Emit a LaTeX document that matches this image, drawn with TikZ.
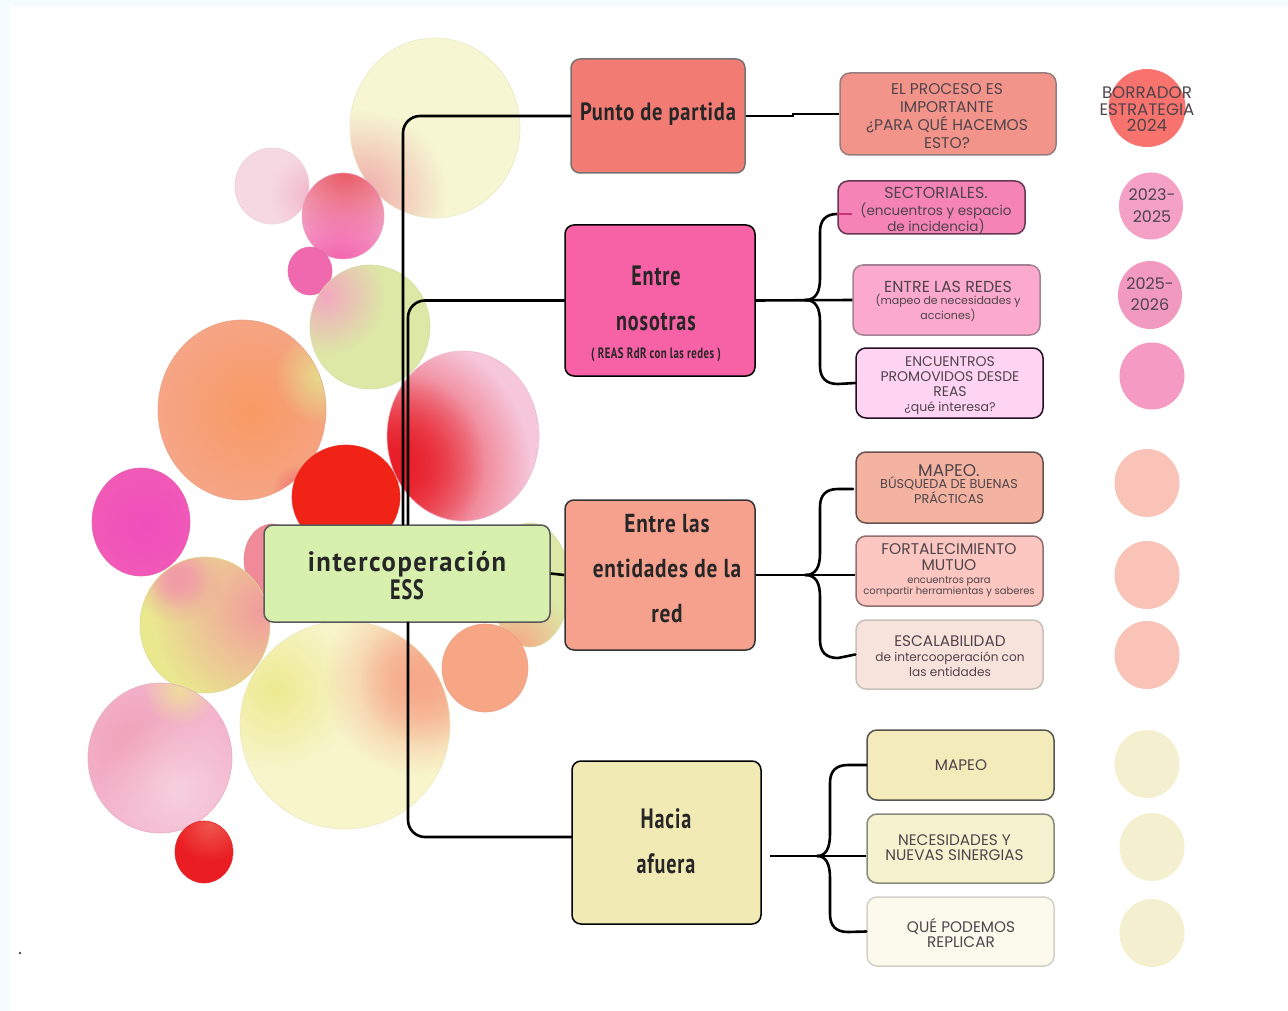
\documentclass[tikz,border=0pt]{standalone}
\usepackage{fontspec}
\usetikzlibrary{shapes.geometric,fadings}
\setmainfont{Poppins}
\newfontfamily\headf[FakeStretch=0.82,LetterSpace=3]{PT Sans}
\newfontfamily\headw[FakeStretch=0.95,LetterSpace=5.5]{PT Sans}
\newfontfamily\heade[FakeStretch=0.72,LetterSpace=3]{PT Sans}
\newcommand\fs[2]{\fontsize{#1}{#2}\selectfont}
\newcommand\sz[1]{\fontsize{#1}{\baselineskip}\selectfont}
\tikzfading[name=softspot,inner color=transparent!0,outer color=transparent!100]
\newcommand\blobx[6]{%
  \begin{scope}
    \clip (#1,#2) ellipse [x radius=#3,y radius=#4];
    \fill[#5] (#1,#2) ellipse [x radius=#3,y radius=#4];
    #6
  \end{scope}
  \draw[#5!88!gray,line width=.7pt,opacity=.8] (#1,#2) ellipse [x radius=#3,y radius=#4];}
\newcommand\spot[4]{\fill[#4,path fading=softspot] (#1,#2) circle (#3);}
\newcommand\dc[1]{\definecolor{c#1}{HTML}{#1}}
\dc{F5FCFD}\dc{F0A9A8}\dc{F2B8CC}\dc{EA5A62}\dc{F45FAE}\dc{F068AE}\dc{F2A8C0}\dc{F99A63}\dc{E4E08C}\dc{EE6A70}
\dc{E81E28}\dc{F04FBC}\dc{F08A98}\dc{F6A585}\dc{F29B9D}\dc{F29BA8}\dc{F6A98A}\dc{F6AE92}\dc{EDEA90}\dc{F1A0B8}
\dc{F7D0DE}\dc{EFDC9C}\dc{EA1E22}\dc{F0554F}
\dc{D8F0AE}\dc{F27C74}\dc{F762A6}\dc{F6A18E}\dc{F2EAB4}
\dc{967D7D}\dc{F3948A}\dc{643755}\dc{F583B6}\dc{A58291}\dc{FBA9CC}\dc{230F23}\dc{FFD3F2}\dc{695050}\dc{F3B3A0}
\dc{917070}\dc{FBC7C0}\dc{C8C0BB}\dc{F8E2DC}\dc{555550}\dc{F3EBB9}\dc{8A8A7A}\dc{F5F3CF}\dc{D2D2C8}\dc{FBFAEC}
\dc{F8736D}\dc{F5A0C5}\dc{F299BF}\dc{F59BC3}\dc{F9C3B8}\dc{F4EFCE}\dc{C83278}
\definecolor{ink}{HTML}{4F444C}
\definecolor{wY}{HTML}{F6F6D2}
\definecolor{wP}{HTML}{F6D8E2}
\definecolor{wK}{HTML}{F3A8C8}
\definecolor{wG}{HTML}{DDE8A6}
\definecolor{wO}{HTML}{F6A585}
\definecolor{wC}{HTML}{F6C6DA}
\definecolor{wE}{HTML}{F12317}
\definecolor{wM}{HTML}{F25FB5}
\definecolor{wL}{HTML}{E9E88F}
\definecolor{wN}{HTML}{F3B4CC}
\definecolor{wB}{HTML}{F8F5CB}
\tikzset{
  hub/.style={draw=#1,line width=1.5pt,rounded corners=9pt,inner sep=0pt},
  hubtext/.style={inner sep=0pt,align=center,text=black!85},
  leaf/.style={draw=#1,line width=1.5pt,rounded corners=10pt,inner sep=0pt},
  leaftext/.style={inner sep=0pt,align=center,text=ink},
  disc/.style={ellipse,fill=#1,inner sep=0pt},
  conn/.style={line width=2.6pt,black,rounded corners=17pt,line cap=round},
  plain/.style={line width=2.6pt,black}
}
\begin{document}
\begin{tikzpicture}[x=1pt,y=-1pt]
\useasboundingbox (0,0) rectangle (1288,1011);
\fill[cF5FCFD] (0,0) rectangle (1288,1011);
\fill[white] (10,6) rectangle (1288,1011);
\fill[black!70] (20,953) circle (1.4);
% watercolour blobs
\blobx{435}{128}{85}{90}{wY}{\spot{362}{195}{85}{cF0A9A8}}
\blobx{272}{186}{37}{38}{wP}{\spot{310}{195}{40}{cF2B8CC}}
\blobx{343}{216}{41}{43}{wK}{\spot{345}{170}{70}{cEA5A62}\spot{340}{265}{70}{cF45FAE}}
\blobx{310}{271}{22}{24}{cF068AE}{}
\blobx{370}{327}{60}{62}{wG}{\spot{325}{295}{60}{cF2A8C0}}
\blobx{242}{410}{84}{90}{wO}{\spot{252}{410}{90}{cF99A63}\spot{325}{375}{50}{cE4E08C}\spot{298}{490}{26}{cEE6A70}}
\blobx{346}{497}{54}{52}{wE}{}
\blobx{463}{436}{76}{85}{wC}{\spot{395}{468}{135}{cE81E28}\spot{395}{462}{90}{cE81E28}}
\blobx{141}{522}{49}{54}{wM}{\spot{145}{525}{80}{cF04FBC}}
\blobx{272}{560}{28}{36}{cF08A98}{}
\blobx{530}{585}{40}{62}{wG}{\spot{515}{648}{60}{cF6A585}}
\blobx{205}{625}{65}{68}{wL}{\spot{262}{610}{110}{cF29B9D}\spot{178}{578}{46}{cF29BA8}\spot{178}{578}{30}{cF29BA8}}
\blobx{345}{725}{105}{104}{wB}{\spot{275}{690}{80}{cEDEA90}\spot{418}{680}{95}{cF6A98A}\spot{425}{680}{65}{cF6A98A}}
\blobx{485}{668}{43}{44}{wO}{}
\blobx{160}{758}{72}{75}{wN}{\spot{135}{745}{70}{cF1A0B8}\spot{178}{790}{80}{cF7D0DE}\spot{180}{690}{36}{cEFDC9C}}
\blobx{204}{852}{29}{31}{cEA1E22}{\spot{210}{825}{36}{cF0554F}}
% main boxes
\node[hub={black!65},fill=cD8F0AE,minimum width=286pt,minimum height=97pt] (ic) at (407,573.5) {};
\node[hubtext,font=\fs{28}{30}\bfseries] at (407,576) {{\headw intercoperación}\\[-2pt]{\heade ESS}};
\node[hub={black!55},fill=cF27C74,minimum width=174pt,minimum height=114pt] (pp) at (658,116) {};
\node[hubtext,font=\headf\bfseries\fs{25}{30}] at (658,114) {Punto de partida};
\node[hub=black,fill=cF762A6,minimum width=190pt,minimum height=151pt] (en) at (660,300.5) {};
\node[hubtext,font=\heade\bfseries\fs{28}{45}] at (656,314) {Entre\\nosotras\\[-17pt]\sz{15}( REAS RdR con las redes )};
\node[hub={black!80},fill=cF6A18E,minimum width=190pt,minimum height=150pt] (el) at (660,575) {};
\node[hubtext,font=\headf\bfseries\fs{26}{45}] at (667,569) {Entre las\\entidades de la\\red};
\node[hub=black,fill=cF2EAB4,minimum width=189pt,minimum height=163pt] (ha) at (666.5,842.5) {};
\node[hubtext,font=\heade\bfseries\fs{28}{45}] at (666,841) {Hacia\\afuera};
% leaves
\node[leaf=c967D7D,fill=cF3948A,minimum width=216pt,minimum height=82pt] (a1) at (948,114) {};
\node[leaftext,font=\fs{15.5}{18}] at (947,116) {EL PROCESO ES\\IMPORTANTE\\¿PARA QUÉ HACEMOS\\ESTO?};
\node[leaf=c643755,fill=cF583B6,minimum width=187pt,minimum height=53pt] (b1) at (931.5,207.5) {};
\node[leaftext,font=\fs{14}{16.5}] at (936,211) {\sz{16}SECTORIALES.\\\sz{13.5}(encuentros y espacio\\\sz{13.5}de incidencia)};
\node[leaf=cA58291,fill=cFBA9CC,minimum width=187pt,minimum height=70pt] (b2) at (946.5,300) {};
\node[leaftext,font=\fs{11}{12.7}] at (948,301) {\sz{15.9}ENTRE LAS REDES\\\sz{11}(mapeo de necesidades y\\\sz{11}acciones)};
\node[leaf=c230F23,fill=cFFD3F2,minimum width=187pt,minimum height=70pt] (b3) at (949.5,383) {};
\node[leaftext,font=\fs{14}{15}] at (950,385.5) {ENCUENTROS\\PROMOVIDOS DESDE\\REAS\\\sz{12.5}¿qué interesa?};
\node[leaf=c695050,fill=cF3B3A0,minimum width=187pt,minimum height=71pt] (c1) at (949.5,487.5) {};
\node[leaftext,font=\fs{12.8}{12.5}] at (949,484) {\sz{17}MAPEO.\\\sz{12.8}BÚSQUEDA DE BUENAS\\\sz{12.8}PRÁCTICAS};
\node[leaf=c917070,fill=cFBC7C0,minimum width=187pt,minimum height=70pt] (c2) at (949.5,571) {};
\node[leaftext,font=\fs{10}{13.3}] at (949,570.5) {\sz{15.5}FORTALECIMIENTO\\[2.5pt]\sz{15.5}MUTUO\\\sz{10}encuentros para\\[-2pt]\sz{10}compartir herramientas y saberes};
\node[leaf=cC8C0BB,fill=cF8E2DC,minimum width=187pt,minimum height=69pt] (c3) at (949.5,654.5) {};
\node[leaftext,font=\fs{12.1}{15}] at (950,656) {\sz{15.3}ESCALABILIDAD\\de intercooperación con\\las entidades};
\node[leaf=c555550,fill=cF3EBB9,minimum width=187pt,minimum height=70pt] (d1) at (960.5,765) {};
\node[leaftext,font=\fs{15.3}{16}] at (961,765) {MAPEO};
\node[leaf=c8A8A7A,fill=cF5F3CF,minimum width=187pt,minimum height=69pt] (d2) at (960.5,848.5) {};
\node[leaftext,font=\fs{15.3}{15}] at (954.5,847.5) {NECESIDADES Y\\NUEVAS SINERGIAS};
\node[leaf=cD2D2C8,fill=cFBFAEC,minimum width=187pt,minimum height=69pt] (d3) at (960.5,931.5) {};
\node[leaftext,font=\fs{15.3}{15.5}] at (961,933) {QUÉ PODEMOS\\REPLICAR};
% discs
\node[disc=cF8736D,minimum width=77pt,minimum height=78pt] (o1) at (1147,108) {};
\node[leaftext,font=\fs{16.7}{16.5}] at (1147,109.5) {BORRADOR\\ESTRATEGIA\\2024};
\node[disc=cF5A0C5,minimum width=64pt,minimum height=67pt] (o2) at (1151,206) {};
\node[leaftext,font=\fs{16}{22}] at (1152,205.5) {2023-\\2025};
\node[disc=cF299BF,minimum width=64pt,minimum height=68pt] (o3) at (1150,295) {};
\node[leaftext,font=\fs{16}{21}] at (1150,294) {2025-\\2026};
\node[disc=cF59BC3,minimum width=65pt,minimum height=67pt] (o4) at (1152,376) {};
\node[disc=cF9C3B8,minimum width=65pt,minimum height=68pt] (o5) at (1147,483) {};
\node[disc=cF9C3B8,minimum width=65pt,minimum height=68pt] (o6) at (1147,575) {};
\node[disc=cF9C3B8,minimum width=65pt,minimum height=68pt] (o7) at (1147,655) {};
\node[disc=cF4EFCE,minimum width=65pt,minimum height=68pt] (o8) at (1147,764) {};
\node[disc=cF4EFCE,minimum width=65pt,minimum height=68pt] (o9) at (1152,847) {};
\node[disc=cF4EFCE,minimum width=65pt,minimum height=68pt] (o10) at (1152,933) {};
% trunk connectors
\draw[conn] ([xshift=-4pt]ic.north) |- (pp.west);
\draw[conn] ([xshift=1pt]ic.north) |- (en.west);
\draw[conn] ([xshift=1pt]ic.south) |- ([yshift=5.5pt]ha.west);
\draw[plain] (ic.east) -- (el.west);
\draw[line width=2pt] (pp.east) -- (793,116) -- (793,114) -- (a1.west);
% branch helpers
\coordinate (j2) at (805,300);
\coordinate (j3) at (805,575);
\coordinate (j4) at (817,856);
\draw[plain] (en.east) -- (b2.west);
\draw[plain] (el.east) -- (c2.west |- el.east);
\draw[plain] (ha.east |- j4) ++(8,0) -- (d1.west |- j4);
\draw[plain,line cap=round] (j2) .. controls (816,300) and (820,292) .. (820,278) -- (820,232) .. controls (820,220) and (826,214) .. ([yshift=-6.5pt]b1.west);
\draw[line width=2.2pt,draw=cC83278] ([yshift=-6.5pt]b1.west) -- ++(15,0);
\draw[plain,line cap=round] (j2) .. controls (816,300) and (820,308) .. (820,322) -- (820,366) .. controls (820,378) and (826,384) .. (838,384) -- (b3.west);
\draw[plain,line cap=round] (j3) .. controls (816,575) and (820,567) .. (820,553) -- (820,507) .. controls (820,495) and (826,489) .. (838,489) -- (853,489);
\draw[plain,line cap=round] (j3) .. controls (816,575) and (820,583) .. (820,597) -- (820,640) .. controls (820,652) and (826,658) .. (838,658) -- (c3.west);
\draw[plain,line cap=round] (j4) .. controls (826,856) and (830,848) .. (830,834) -- (830,783) .. controls (830,771) and (836,765) .. (848,765) -- (d1.west);
\draw[plain,line cap=round] (j4) .. controls (826,856) and (830,864) .. (830,878) -- (830,914) .. controls (830,926) and (836,932) .. (848,932) -- (d3.west);
\end{tikzpicture}
\end{document}
